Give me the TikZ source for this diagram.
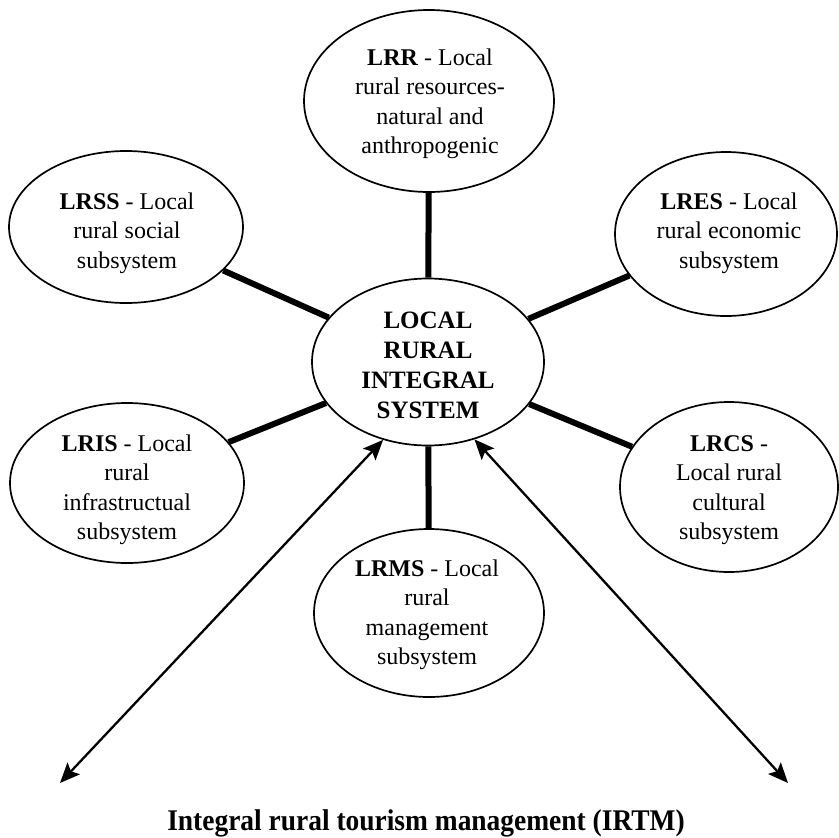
\documentclass[tikz,border=0pt]{standalone}
\usepackage{fontspec}
\setmainfont{Liberation Serif}
\usetikzlibrary{shapes.geometric,arrows.meta}
\begin{document}
\begin{tikzpicture}[x=1pt,y=-1pt,
  bub/.style={ellipse,draw,line width=1.7pt,inner sep=0pt},
  txt/.style={align=center,font=\fontsize{24}{29.5}\selectfont,inner sep=0pt},
  link/.style={line width=6pt},
  tipx/.tip={Stealth[length=20pt,width=17pt,inset=4pt]},
  arr/.style={line width=2.3pt,tipx-tipx}]
\useasboundingbox (0,0) rectangle (838,838);
% ellipses
\node[bub,minimum width=232pt,minimum height=167pt] (c) at (428,362) {};
\node[bub,minimum width=250pt,minimum height=182pt] (lrr) at (429,101) {};
\node[bub,minimum width=234pt,minimum height=152pt] (lrss) at (126,227) {};
\node[bub,minimum width=222pt,minimum height=164pt] (lres) at (726,234) {};
\node[bub,minimum width=234pt,minimum height=160pt] (lris) at (127,483) {};
\node[bub,minimum width=218pt,minimum height=170pt] (lrcs) at (729,487) {};
\node[bub,minimum width=230pt,minimum height=168pt] (lrms) at (429,613) {};
% texts
\node[txt,font=\bfseries\fontsize{25}{30}\selectfont] (c-t) at (428,365) {LOCAL\\RURAL\\INTEGRAL\\SYSTEM};
\node[txt] (lrr-t) at (430,104) {\textbf{LRR} - Local\\rural resources-\\natural and\\anthropogenic};
\node[txt] (lrss-t) at (127,233) {\textbf{LRSS} - Local\\rural social\\subsystem};
\node[txt] (lres-t) at (729,233) {\textbf{LRES} - Local\\rural economic\\subsystem};
\node[txt] (lris-t) at (127,490) {\textbf{LRIS} - Local\\rural\\infrastructual\\subsystem};
\node[txt] (lrcs-t) at (729,490) {\textbf{LRCS} -\\Local rural\\cultural\\subsystem};
\node[txt] (lrms-t) at (427,615) {\textbf{LRMS} - Local\\rural\\management\\subsystem};
% connectors
\draw[link] (lrr) -- (c);
\draw[link] (lrss) -- (c);
\draw[link] (lres) -- (c);
\draw[link] (lris) -- (c);
\draw[link] (lrcs) -- (c);
\draw[link] (lrms) -- (c);
% arrows
\coordinate (al) at (60,783);
\coordinate (ar) at (788,783);
\draw[arr] (al) -- (c.240);
\draw[arr] (ar) -- (c.301);
% bottom title
\node[anchor=base,inner sep=0pt,font=\bfseries\fontsize{30}{32}\selectfont] (irtm) at (426,830) {\scalebox{0.915}[1]{Integral rural tourism management (IRTM)}};
\end{tikzpicture}
\end{document}
